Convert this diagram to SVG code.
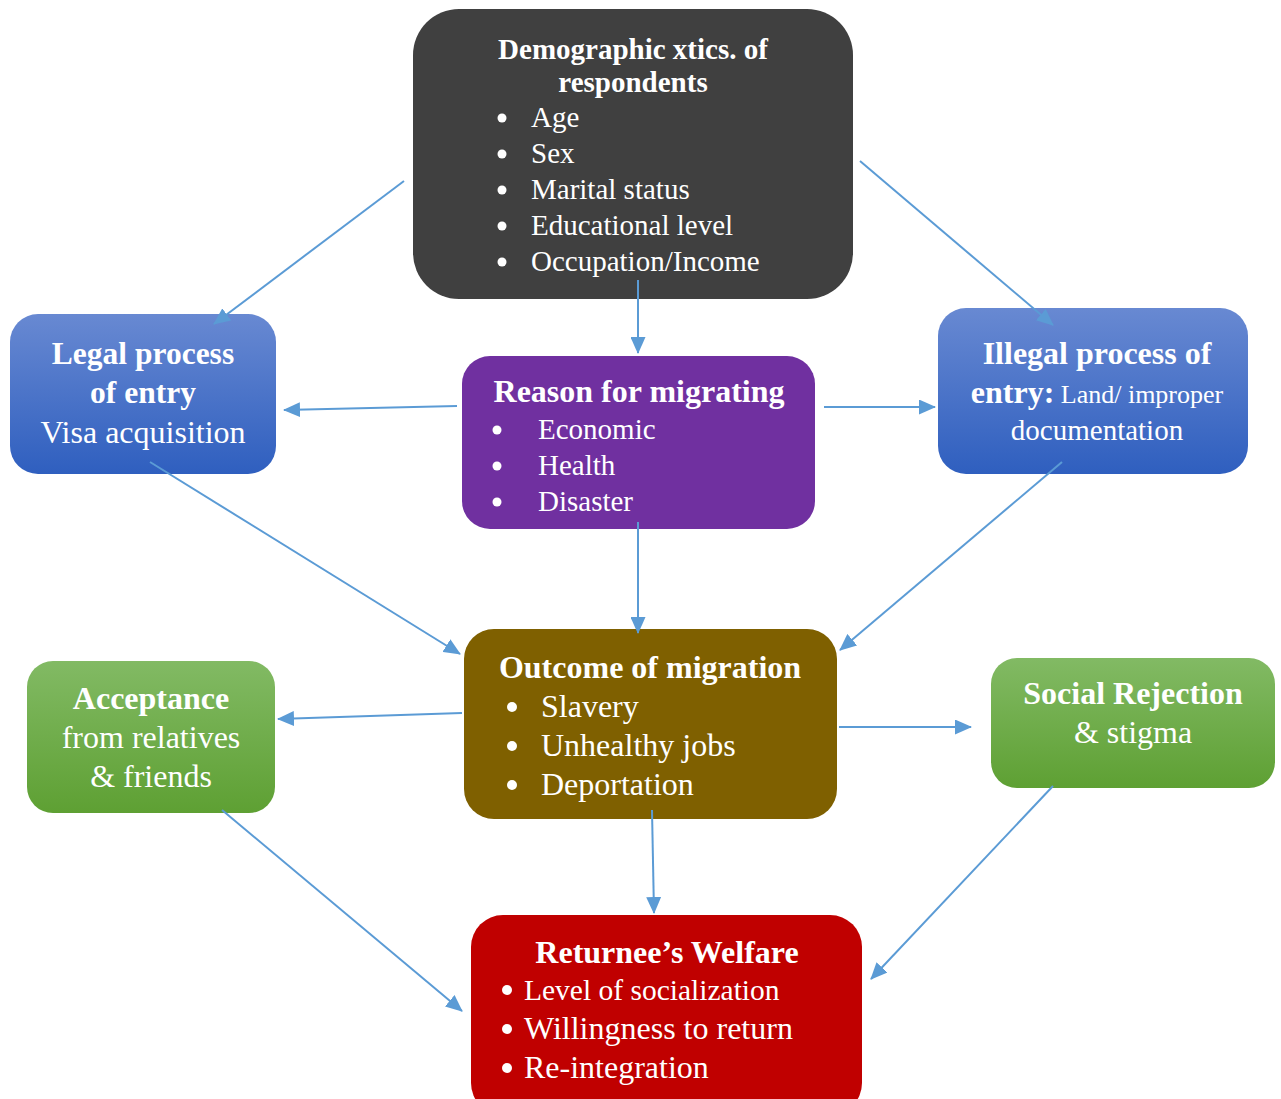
<svg xmlns="http://www.w3.org/2000/svg" width="1281" height="1099" viewBox="0 0 1281 1099">
<defs>
<linearGradient id="gBlue" x1="0" y1="0" x2="0" y2="1"><stop offset="0" stop-color="#6889d2"/><stop offset="1" stop-color="#2f5fbf"/></linearGradient>
<linearGradient id="gGreen" x1="0" y1="0" x2="0" y2="1"><stop offset="0" stop-color="#82ba64"/><stop offset="1" stop-color="#5ea033"/></linearGradient>
<marker id="ah" markerUnits="userSpaceOnUse" markerWidth="17" markerHeight="15" refX="16" refY="7.5" orient="auto"><path d="M0,0 L17,7.5 L0,15 Z" fill="#5b9bd5"/></marker>
<style>
text{font-family:"Liberation Serif","Times New Roman",serif;fill:#fff}
.b{font-weight:bold}
.c{text-anchor:middle}
.conn line{stroke:#5b9bd5;stroke-width:2;marker-end:url(#ah)}
.dot{fill:#fff}
</style>
</defs>
<rect width="1281" height="1099" fill="#fff"/>
<g id="demographic">
<rect x="413" y="9" width="440" height="290" rx="46" fill="#404040"/>
<text class="b c" x="633" y="59" font-size="29">Demographic xtics. of</text>
<text class="b c" x="633" y="92" font-size="29">respondents</text>
<circle class="dot" cx="502" cy="118" r="4.5"/><text x="531" y="127" font-size="29">Age</text>
<circle class="dot" cx="502" cy="154" r="4.5"/><text x="531" y="163" font-size="29">Sex</text>
<circle class="dot" cx="502" cy="190" r="4.5"/><text x="531" y="199" font-size="29">Marital status</text>
<circle class="dot" cx="502" cy="226" r="4.5"/><text x="531" y="235" font-size="29">Educational level</text>
<circle class="dot" cx="502" cy="262" r="4.5"/><text x="531" y="271" font-size="29">Occupation/Income</text>
</g>
<g id="legal">
<rect x="10" y="314" width="266" height="160" rx="28" fill="url(#gBlue)"/>
<text class="b c" x="143" y="364" font-size="31.5">Legal process</text>
<text class="b c" x="143" y="403" font-size="31.5">of entry</text>
<text class="c" x="143" y="443" font-size="32">Visa acquisition</text>
</g>
<g id="reason">
<rect x="462" y="356" width="353" height="173" rx="28" fill="#7030a0"/>
<text class="b c" x="639" y="402" font-size="32">Reason for migrating</text>
<circle class="dot" cx="497" cy="430" r="4.5"/><text x="538" y="439" font-size="29">Economic</text>
<circle class="dot" cx="497" cy="466" r="4.5"/><text x="538" y="475" font-size="29">Health</text>
<circle class="dot" cx="497" cy="502" r="4.5"/><text x="538" y="511" font-size="29">Disaster</text>
</g>
<g id="illegal">
<rect x="938" y="308" width="310" height="166" rx="28" fill="url(#gBlue)"/>
<text class="b c" x="1097" y="364" font-size="32">Illegal process of</text>
<text class="c" x="1097" y="403"><tspan class="b" font-size="32">entry:</tspan><tspan font-size="26"> Land/ improper</tspan></text>
<text class="c" x="1097" y="440" font-size="29">documentation</text>
</g>
<g id="outcome">
<rect x="464" y="629" width="373" height="190" rx="30" fill="#7f6000"/>
<text class="b c" x="650" y="678" font-size="32">Outcome of migration</text>
<circle class="dot" cx="512" cy="707" r="5"/><text x="541" y="717" font-size="32">Slavery</text>
<circle class="dot" cx="512" cy="746" r="5"/><text x="541" y="756" font-size="32">Unhealthy jobs</text>
<circle class="dot" cx="512" cy="785" r="5"/><text x="541" y="795" font-size="32">Deportation</text>
</g>
<g id="acceptance">
<rect x="27" y="661" width="248" height="152" rx="26" fill="url(#gGreen)"/>
<text class="b c" x="151" y="709" font-size="32">Acceptance</text>
<text class="c" x="151" y="748" font-size="32">from relatives</text>
<text class="c" x="151" y="787" font-size="32">&amp; friends</text>
</g>
<g id="social">
<rect x="991" y="658" width="284" height="130" rx="26" fill="url(#gGreen)"/>
<text class="b c" x="1133" y="704" font-size="32">Social Rejection</text>
<text class="c" x="1133" y="743" font-size="32">&amp; stigma</text>
</g>
<g id="returnee">
<rect x="471" y="915" width="391" height="200" rx="32" fill="#c00000"/>
<text class="b c" x="667" y="963" font-size="32">Returnee’s Welfare</text>
<circle class="dot" cx="507" cy="990" r="5"/><text x="524" y="1000" font-size="29.5">Level of socialization</text>
<circle class="dot" cx="507" cy="1029" r="5"/><text x="524" y="1039" font-size="32">Willingness to return</text>
<circle class="dot" cx="507" cy="1068" r="5"/><text x="524" y="1078" font-size="32">Re-integration</text>
</g>
<g id="connectors" class="conn">
<line x1="404" y1="181" x2="214" y2="324"/>
<line x1="860" y1="161" x2="1053" y2="325"/>
<line x1="638" y1="280" x2="638" y2="353"/>
<line x1="457" y1="406" x2="284" y2="410"/>
<line x1="824" y1="407" x2="935" y2="407"/>
<line x1="150" y1="462" x2="460" y2="654"/>
<line x1="638" y1="522" x2="638" y2="633"/>
<line x1="1062" y1="462" x2="840" y2="650"/>
<line x1="462" y1="713" x2="278" y2="719"/>
<line x1="839" y1="727" x2="971" y2="727"/>
<line x1="652" y1="810" x2="654" y2="913"/>
<line x1="222" y1="810" x2="462" y2="1011"/>
<line x1="1053" y1="786" x2="871" y2="979"/>
</g>
</svg>
